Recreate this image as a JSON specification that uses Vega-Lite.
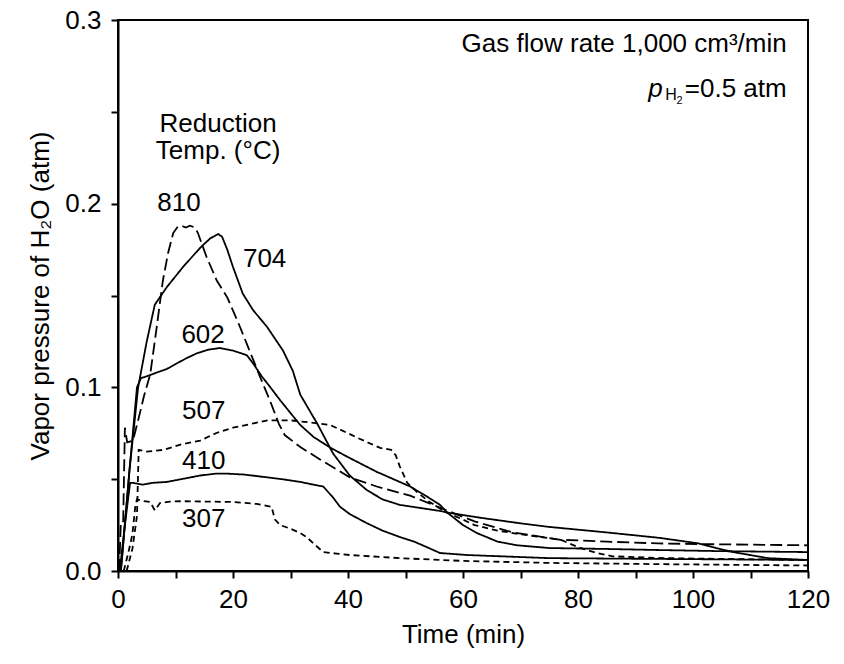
{
  "$schema": "https://vega.github.io/schema/vega-lite/v6.json",
  "width": 690,
  "height": 551,
  "autosize": {"type": "none"},
  "padding": {"left": 118, "top": 20, "right": 36, "bottom": 93},
  "background": "white",
  "config": {
    "font": "Liberation Sans",
    "view": {"stroke": "black", "strokeWidth": 2},
    "axis": {
      "domainColor": "black", "domainWidth": 2, "tickColor": "black", "tickWidth": 2, "tickSize": 7,
      "grid": false, "labelFont": "Liberation Sans", "labelFontSize": 26, "labelColor": "black",
      "titleFont": "Liberation Sans", "titleFontSize": 26, "titleFontWeight": "normal", "titleColor": "black",
      "labelFlush": false, "labelBound": false, "labelOverlap": false
    }
  },
  "encoding": {
    "x": {"field": "t", "type": "quantitative", "scale": {"domain": [0, 120], "nice": false, "zero": false},
      "axis": {"title": "Time (min)", "values": [0,10,20,30,40,50,60,70,80,90,100,110,120],
        "labelExpr": "datum.value % 20 === 0 ? datum.label : ''", "labelPadding": 8, "titlePadding": 9}},
    "y": {"field": "p", "type": "quantitative", "scale": {"domain": [0, 0.3], "nice": false},
      "axis": {"title": "Vapor pressure of H₂O (atm)", "values": [0,0.05,0.1,0.15,0.2,0.25,0.3],
        "labelExpr": "round(datum.value*100) % 10 === 0 ? format(datum.value, '.1f') : ''", "labelPadding": 10, "titlePadding": 11}}
  },
  "layer": [
    {
      "data": {"values": [
        {"temp":"810","t":0.2,"p":0},{"temp":"810","t":0.5,"p":0.027},{"temp":"810","t":0.9,"p":0.027},{"temp":"810","t":1.2,"p":0.078},{"temp":"810","t":1.6,"p":0.070},{"temp":"810","t":2.6,"p":0.071},{"temp":"810","t":3.5,"p":0.082},{"temp":"810","t":4.5,"p":0.095},{"temp":"810","t":5.6,"p":0.107},{"temp":"810","t":6.7,"p":0.132},{"temp":"810","t":7.8,"p":0.158},{"temp":"810","t":8.7,"p":0.173},{"temp":"810","t":9.6,"p":0.184},{"temp":"810","t":10.4,"p":0.1875},{"temp":"810","t":11,"p":0.188},{"temp":"810","t":11.8,"p":0.187},{"temp":"810","t":12.5,"p":0.188},{"temp":"810","t":13.4,"p":0.187},{"temp":"810","t":13.9,"p":0.184},{"temp":"810","t":15.4,"p":0.171},{"temp":"810","t":17.2,"p":0.158},{"temp":"810","t":19,"p":0.149},{"temp":"810","t":21.2,"p":0.133},{"temp":"810","t":23,"p":0.119},{"temp":"810","t":24.8,"p":0.105},{"temp":"810","t":26.4,"p":0.093},{"temp":"810","t":28,"p":0.080},{"temp":"810","t":29,"p":0.074},{"temp":"810","t":31.7,"p":0.0675},{"temp":"810","t":35,"p":0.061},{"temp":"810","t":40.3,"p":0.051},{"temp":"810","t":45,"p":0.046},{"temp":"810","t":50.8,"p":0.041},{"temp":"810","t":57.2,"p":0.033},{"temp":"810","t":62,"p":0.027},{"temp":"810","t":68.7,"p":0.021},{"temp":"810","t":77,"p":0.017},{"temp":"810","t":85,"p":0.016},{"temp":"810","t":94,"p":0.015},{"temp":"810","t":105,"p":0.0145},{"temp":"810","t":120,"p":0.014},
        {"temp":"704","t":0.5,"p":0},{"temp":"704","t":2,"p":0.055},{"temp":"704","t":3.5,"p":0.1},{"temp":"704","t":5,"p":0.125},{"temp":"704","t":6.4,"p":0.145},{"temp":"704","t":8.5,"p":0.1546},{"temp":"704","t":11.3,"p":0.1655},{"temp":"704","t":14.3,"p":0.176},{"temp":"704","t":16,"p":0.181},{"temp":"704","t":17.4,"p":0.1835},{"temp":"704","t":18.1,"p":0.182},{"temp":"704","t":19,"p":0.175},{"temp":"704","t":20,"p":0.1655},{"temp":"704","t":21.7,"p":0.151},{"temp":"704","t":23.5,"p":0.142},{"temp":"704","t":25.9,"p":0.133},{"temp":"704","t":28.7,"p":0.120},{"temp":"704","t":30.4,"p":0.109},{"temp":"704","t":31.7,"p":0.096},{"temp":"704","t":34.6,"p":0.0805},{"temp":"704","t":37.4,"p":0.064},{"temp":"704","t":40.3,"p":0.052},{"temp":"704","t":43.3,"p":0.044},{"temp":"704","t":46,"p":0.039},{"temp":"704","t":49,"p":0.036},{"temp":"704","t":56,"p":0.0327},{"temp":"704","t":57.7,"p":0.0316},{"temp":"704","t":63,"p":0.029},{"temp":"704","t":69.9,"p":0.026},{"temp":"704","t":75,"p":0.024},{"temp":"704","t":85,"p":0.021},{"temp":"704","t":94.3,"p":0.018},{"temp":"704","t":101,"p":0.015},{"temp":"704","t":104,"p":0.0125},{"temp":"704","t":107,"p":0.0103},{"temp":"704","t":113,"p":0.007},{"temp":"704","t":120,"p":0.006},
        {"temp":"602","t":0.5,"p":0},{"temp":"602","t":2,"p":0.055},{"temp":"602","t":3.3,"p":0.1},{"temp":"602","t":4,"p":0.105},{"temp":"602","t":5,"p":0.106},{"temp":"602","t":6.7,"p":0.108},{"temp":"602","t":8.5,"p":0.110},{"temp":"602","t":10.2,"p":0.113},{"temp":"602","t":12,"p":0.116},{"temp":"602","t":13.7,"p":0.1185},{"temp":"602","t":15.7,"p":0.1205},{"temp":"602","t":17.7,"p":0.1214},{"temp":"602","t":20,"p":0.120},{"temp":"602","t":22.4,"p":0.1175},{"temp":"602","t":23.5,"p":0.113},{"temp":"602","t":25,"p":0.106},{"temp":"602","t":26.5,"p":0.1},{"temp":"602","t":28.2,"p":0.093},{"temp":"602","t":30,"p":0.086},{"temp":"602","t":31.7,"p":0.0795},{"temp":"602","t":34,"p":0.073},{"temp":"602","t":37,"p":0.067},{"temp":"602","t":40.3,"p":0.0615},{"temp":"602","t":45,"p":0.054},{"temp":"602","t":50.8,"p":0.046},{"temp":"602","t":53.5,"p":0.041},{"temp":"602","t":56,"p":0.036},{"temp":"602","t":57.2,"p":0.032},{"temp":"602","t":60,"p":0.025},{"temp":"602","t":62.4,"p":0.0207},{"temp":"602","t":66,"p":0.016},{"temp":"602","t":69.4,"p":0.014},{"temp":"602","t":75,"p":0.0125},{"temp":"602","t":85,"p":0.012},{"temp":"602","t":94.3,"p":0.0114},{"temp":"602","t":105,"p":0.0108},{"temp":"602","t":120,"p":0.0103},
        {"temp":"507","t":1.5,"p":0},{"temp":"507","t":2.5,"p":0.012},{"temp":"507","t":3.3,"p":0.03},{"temp":"507","t":3.6,"p":0.066},{"temp":"507","t":5,"p":0.065},{"temp":"507","t":8,"p":0.066},{"temp":"507","t":11,"p":0.069},{"temp":"507","t":14.3,"p":0.071},{"temp":"507","t":17,"p":0.075},{"temp":"507","t":20,"p":0.078},{"temp":"507","t":23,"p":0.080},{"temp":"507","t":26,"p":0.082},{"temp":"507","t":30,"p":0.082},{"temp":"507","t":33,"p":0.081},{"temp":"507","t":36.9,"p":0.0795},{"temp":"507","t":40,"p":0.075},{"temp":"507","t":42,"p":0.072},{"temp":"507","t":45.6,"p":0.067},{"temp":"507","t":47.5,"p":0.066},{"temp":"507","t":48.3,"p":0.063},{"temp":"507","t":49,"p":0.057},{"temp":"507","t":50.3,"p":0.048},{"temp":"507","t":52,"p":0.043},{"temp":"507","t":54,"p":0.038},{"temp":"507","t":57,"p":0.032},{"temp":"507","t":60,"p":0.028},{"temp":"507","t":62,"p":0.025},{"temp":"507","t":66,"p":0.022},{"temp":"507","t":70,"p":0.020},{"temp":"507","t":77,"p":0.017},{"temp":"507","t":80,"p":0.013},{"temp":"507","t":83,"p":0.010},{"temp":"507","t":86,"p":0.008},{"temp":"507","t":95,"p":0.007},{"temp":"507","t":120,"p":0.006},
        {"temp":"410","t":0.3,"p":0},{"temp":"410","t":1.2,"p":0.025},{"temp":"410","t":2.1,"p":0.048},{"temp":"410","t":2.6,"p":0.048},{"temp":"410","t":4.3,"p":0.047},{"temp":"410","t":6,"p":0.048},{"temp":"410","t":8.5,"p":0.0485},{"temp":"410","t":11,"p":0.050},{"temp":"410","t":14.3,"p":0.052},{"temp":"410","t":17,"p":0.053},{"temp":"410","t":19,"p":0.053},{"temp":"410","t":22,"p":0.0525},{"temp":"410","t":25.9,"p":0.051},{"temp":"410","t":28.5,"p":0.050},{"temp":"410","t":31.7,"p":0.0485},{"temp":"410","t":34,"p":0.047},{"temp":"410","t":35.7,"p":0.046},{"temp":"410","t":37.4,"p":0.040},{"temp":"410","t":38.6,"p":0.035},{"temp":"410","t":40.3,"p":0.031},{"temp":"410","t":43.3,"p":0.026},{"temp":"410","t":46,"p":0.022},{"temp":"410","t":49,"p":0.0185},{"temp":"410","t":51.5,"p":0.016},{"temp":"410","t":53.7,"p":0.013},{"temp":"410","t":56,"p":0.0098},{"temp":"410","t":60.7,"p":0.0087},{"temp":"410","t":75,"p":0.007},{"temp":"410","t":120,"p":0.006},
        {"temp":"307","t":1,"p":0},{"temp":"307","t":1.8,"p":0.01},{"temp":"307","t":2.5,"p":0.02},{"temp":"307","t":3,"p":0.035},{"temp":"307","t":3.3,"p":0.039},{"temp":"307","t":4.5,"p":0.038},{"temp":"307","t":5.6,"p":0.0376},{"temp":"307","t":6.4,"p":0.033},{"temp":"307","t":7.3,"p":0.037},{"temp":"307","t":9,"p":0.0378},{"temp":"307","t":11.3,"p":0.038},{"temp":"307","t":15,"p":0.0378},{"temp":"307","t":20,"p":0.0376},{"temp":"307","t":24.1,"p":0.0365},{"temp":"307","t":26.7,"p":0.035},{"temp":"307","t":27.3,"p":0.028},{"temp":"307","t":28.2,"p":0.025},{"temp":"307","t":30,"p":0.023},{"temp":"307","t":31.7,"p":0.0207},{"temp":"307","t":32.8,"p":0.0185},{"temp":"307","t":34,"p":0.015},{"temp":"307","t":35.7,"p":0.0103},{"temp":"307","t":38,"p":0.0095},{"temp":"307","t":40.3,"p":0.0087},{"temp":"307","t":49,"p":0.007},{"temp":"307","t":60,"p":0.0055},{"temp":"307","t":75,"p":0.0044},{"temp":"307","t":95,"p":0.0037},{"temp":"307","t":120,"p":0.003}
      ]},
      "mark": {"type": "line", "color": "black", "strokeWidth": 1.8},
      "encoding": {
        "detail": {"field": "temp", "type": "nominal"},
        "strokeDash": {"field": "temp", "type": "nominal", "legend": null,
          "scale": {"domain": ["810","704","602","507","410","307"], "range": [[12,5],[1,0],[1,0],[6,4],[1,0],[6,4]]}}
      }
    },
    {
      "data": {"values": [
        {"t":10.6,"p":0.2006,"label":"810"},{"t":25.5,"p":0.170,"label":"704"},{"t":14.8,"p":0.1285,"label":"602"},
        {"t":14.9,"p":0.0871,"label":"507"},{"t":14.9,"p":0.0599,"label":"410"},{"t":14.9,"p":0.0283,"label":"307"},
        {"t":17.4,"p":0.2433,"label":"Reduction"},{"t":17.4,"p":0.2286,"label":"Temp. (°C)"}
      ]},
      "mark": {"type": "text", "font": "Liberation Sans", "fontSize": 26, "color": "black", "align": "center", "baseline": "middle"},
      "encoding": {"text": {"field": "label", "type": "nominal"}}
    },
    {
      "data": {"values": [{"t":116.3,"p":0.2872,"label":"Gas flow rate 1,000 cm³/min"},{"t":116.3,"p":0.2624,"label":"=0.5 atm"}]},
      "mark": {"type": "text", "font": "Liberation Sans", "fontSize": 26, "color": "black", "align": "right", "baseline": "middle"},
      "encoding": {"text": {"field": "label", "type": "nominal"}}
    },
    {
      "data": {"values": [{"t":116.3,"p":0.2624,"label":"p"}]},
      "mark": {"type": "text", "font": "Liberation Sans", "fontSize": 26, "fontStyle": "italic", "color": "black", "align": "right", "baseline": "middle", "dx": -124},
      "encoding": {"text": {"field": "label", "type": "nominal"}}
    },
    {
      "data": {"values": [{"t":116.3,"p":0.2624,"label":"H"}]},
      "mark": {"type": "text", "font": "Liberation Sans", "fontSize": 16, "color": "black", "align": "right", "baseline": "middle", "dx": -110, "dy": 6},
      "encoding": {"text": {"field": "label", "type": "nominal"}}
    },
    {
      "data": {"values": [{"t":116.3,"p":0.2624,"label":"2"}]},
      "mark": {"type": "text", "font": "Liberation Sans", "fontSize": 11, "color": "black", "align": "right", "baseline": "middle", "dx": -104, "dy": 12},
      "encoding": {"text": {"field": "label", "type": "nominal"}}
    }
  ]
}
